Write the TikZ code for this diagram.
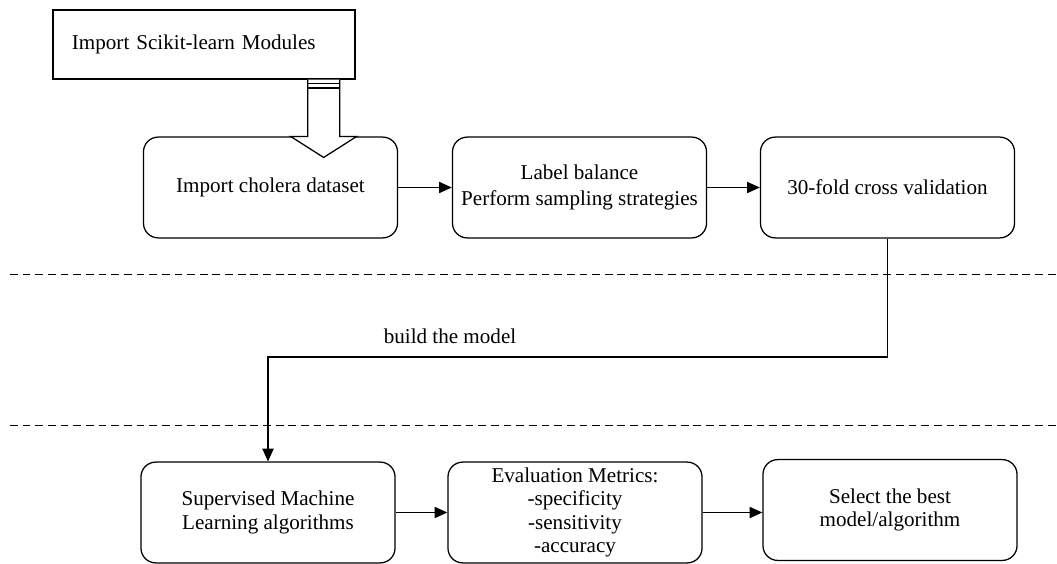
\documentclass[tikz,border=0pt]{standalone}
\usepackage{fontspec}
\setmainfont{Liberation Serif}
\usepackage{tikz}
\usetikzlibrary{calc}
\usetikzlibrary{positioning}
\usetikzlibrary{arrows.meta}

\begin{document}
\begin{tikzpicture}[x=0.025cm, y=-0.025cm,
    stage/.style={draw, line width=0.9pt, rounded corners=3.7mm, minimum width=6.35cm,
      minimum height=2.52cm, align=center, font=\fontsize{15}{16.5}\selectfont},
    modbox/.style={draw, line width=0.9pt, text width=6.6cm, inner xsep=0.475cm,
      minimum height=1.72cm, align=left, font=\fontsize{15}{16}\selectfont},
    flow/.style={line width=1pt, -{Triangle[length=3.2mm, width=2.8mm]}},
    sep/.style={line width=0.7pt, dash pattern=on 5.5pt off 3.5pt}]
  \useasboundingbox (0,0) rectangle (1057,564);

  \node[modbox] (scikit) at (204,44.5) {\raisebox{-2pt}{Import Scikit-learn Modules}};

  \node[stage] (chol) at (270.5,187.5) {Import cholera dataset};
  \node[stage] (balance) at (579.5,187.5) {Label balance\\[2pt] Perform sampling strategies};
  \node[stage] (fold) at (887.5,187.5) {30-fold cross validation};

  \node[stage] (sup) at (268,512.5) {Supervised Machine\\ Learning algorithms};
  \node[stage] (eval) at (575,512.5) {Evaluation Metrics:\\ -specificity\\ -sensitivity\\ -accuracy};
  \node[stage] (best) at (890,510) {Select the best\\ model/algorithm};

  \coordinate (imptop) at ($(scikit.south east)+(-32,0)$);
  \coordinate (impend) at (imptop |- chol.north);
  \draw[line width=0.9pt, fill=white] ($(imptop)+(-16,0)$) -- ($(impend)+(-16,0)$)
    -- ++(-17,0) -- ($(impend)+(0,21)$) -- ($(impend)+(33,0)$) -- ++(-17,0)
    -- ($(imptop)+(16,0)$);
  \draw[line width=0.9pt] ($(imptop)+(-16,4)$) -- ++(32,0);
  \draw[line width=0.9pt] ($(imptop)+(-16,8.5)$) -- ++(32,0);

  \draw[flow] (chol) -- (balance);
  \draw[flow] (balance) -- (fold);

  \coordinate (sep1l) at (10,274);
  \coordinate (sep1r) at (1057,274);
  \coordinate (sep2l) at (10,425);
  \coordinate (sep2r) at (1057,425);
  \draw[sep] (sep1l) -- (sep1r);
  \draw[sep] (sep2l) -- (sep2r);

  \coordinate (bend) at (580,357);
  \draw[flow] (fold.south) |- (bend) -| (sup.north);
  \node[font=\fontsize{15}{16}\selectfont] (buildlbl) at (450,336) {build the model};

  \draw[flow] (sup) -- (eval);
  \draw[flow] (eval.east) -- (eval.east -| best.west);
\end{tikzpicture}
\end{document}
